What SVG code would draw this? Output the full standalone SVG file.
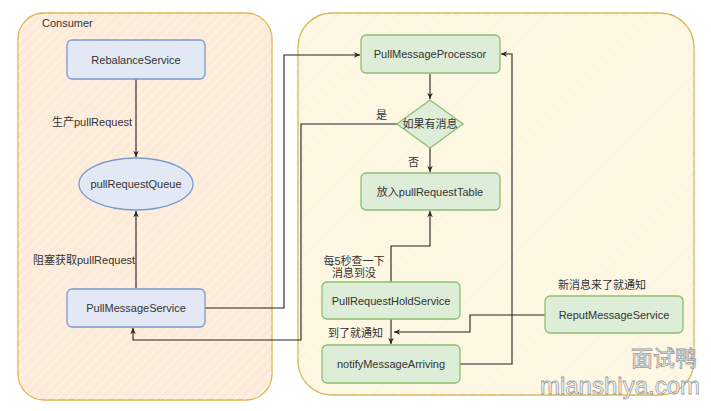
<svg xmlns="http://www.w3.org/2000/svg" width="711" height="411" viewBox="0 0 711 411">
<defs>
<pattern id="hatch" width="7" height="7" patternUnits="userSpaceOnUse" patternTransform="rotate(45)">
<line x1="0" y1="0" x2="0" y2="7" stroke="#ffffff" stroke-width="1.6" stroke-opacity="0.55"/>
</pattern>
<marker id="arr" viewBox="0 0 10 10" refX="9" refY="5" markerWidth="7" markerHeight="7" orient="auto-start-reverse" markerUnits="userSpaceOnUse">
<path d="M0,1 L9,5 L0,9 L3,5 Z" fill="#222"/>
</marker>
</defs>
<style>
text{font-family:"Liberation Sans","Noto Sans CJK SC",Arial,sans-serif;font-size:11px;fill:#333;}
.c{text-anchor:middle;dominant-baseline:central;}
.blue{fill:#e3e9f4;stroke:#7d9bcb;stroke-width:1.3;}
.green{fill:#deedd8;stroke:#8cbf72;stroke-width:1.3;}
.ln{fill:none;stroke:#222;stroke-width:1.1;}
text.wm1{font-size:22px;fill:#ffffff;stroke:#9a9a9a;stroke-width:0.8;text-anchor:end;}
text.wm2{font-size:24px;fill:#ffffff;stroke:#9a9a9a;stroke-width:0.8;text-anchor:end;}
</style>
<rect width="711" height="411" fill="#ffffff"/>
<g id="consumer">
<rect x="18" y="13" width="254" height="387" rx="26" fill="#fcebd9" stroke="#e0b44a" stroke-width="1.3"/>
<rect x="18" y="13" width="254" height="387" rx="26" fill="url(#hatch)"/>
<text x="42" y="27">Consumer</text>
</g>
<g id="broker">
<rect x="298" y="13" width="396" height="382" rx="34" fill="#fdf6e1" stroke="#d6b656" stroke-width="1.3"/>
<rect x="298" y="13" width="396" height="382" rx="34" fill="url(#hatch)"/>
</g>
<g id="connectors">
<line class="ln" x1="136" y1="79" x2="136" y2="157" marker-end="url(#arr)"/>
<line class="ln" x1="136" y1="288" x2="136" y2="211" marker-end="url(#arr)"/>
<polyline class="ln" points="205,308 284,308 284,55 360,55" marker-end="url(#arr)"/>
<line class="ln" x1="430" y1="74" x2="430" y2="99" marker-end="url(#arr)"/>
<polyline class="ln" points="397,124 301,124 301,340 133,340 133,328" marker-end="url(#arr)"/>
<line class="ln" x1="430" y1="148" x2="430" y2="172" marker-end="url(#arr)"/>
<polyline class="ln" points="391,282 391,246 430,246 430,211" marker-end="url(#arr)"/>
<line class="ln" x1="391" y1="319" x2="391" y2="344" marker-end="url(#arr)"/>
<polyline class="ln" points="460,364 512,364 512,54 501,54" marker-end="url(#arr)"/>
<polyline class="ln" points="545,315 470,315 470,332 394,332" marker-end="url(#arr)"/>
<text x="52" y="126">生产pullRequest</text>
<text x="33" y="264">阻塞获取pullRequest</text>
<text x="376" y="119">是</text>
<text x="408" y="166">否</text>
<text x="354" y="261" class="c">每5秒查一下</text>
<text x="354" y="273" class="c">消息到没</text>
<text x="328" y="337">到了就通知</text>
<text x="602" y="285" class="c">新消息来了就通知</text>
</g>
<g id="RebalanceService">
<rect class="blue" x="67" y="40" width="138" height="39" rx="5"/>
<text class="c" x="136" y="60">RebalanceService</text>
</g>
<g id="pullRequestQueue">
<ellipse class="blue" cx="136" cy="184" rx="57" ry="26"/>
<text class="c" x="136" y="184">pullRequestQueue</text>
</g>
<g id="PullMessageService">
<rect class="blue" x="67" y="289" width="138" height="38" rx="5"/>
<text class="c" x="136" y="308">PullMessageService</text>
</g>
<g id="PullMessageProcessor">
<rect class="green" x="361" y="35" width="139" height="38" rx="5"/>
<text class="c" x="430" y="54">PullMessageProcessor</text>
</g>
<g id="decision">
<polygon class="green" points="430,100 463,124 430,148 397,124"/>
<text class="c" x="430" y="124">如果有消息</text>
</g>
<g id="pullRequestTable">
<rect class="green" x="361" y="173" width="139" height="37" rx="5"/>
<text class="c" x="430" y="192">放入pullRequestTable</text>
</g>
<g id="PullRequestHoldService">
<rect class="green" x="322" y="282" width="138" height="37" rx="5"/>
<text class="c" x="391" y="301">PullRequestHoldService</text>
</g>
<g id="notifyMessageArriving">
<rect class="green" x="322" y="345" width="138" height="38" rx="5"/>
<text class="c" x="391" y="364">notifyMessageArriving</text>
</g>
<g id="ReputMessageService">
<rect class="green" x="545" y="296" width="138" height="37" rx="5"/>
<text class="c" x="614" y="315">ReputMessageService</text>
</g>
<g id="watermark">
<text class="wm1" x="697" y="366">面试鸭</text>
<text class="wm2" x="700" y="394">mianshiya.com</text>
</g>
</svg>
